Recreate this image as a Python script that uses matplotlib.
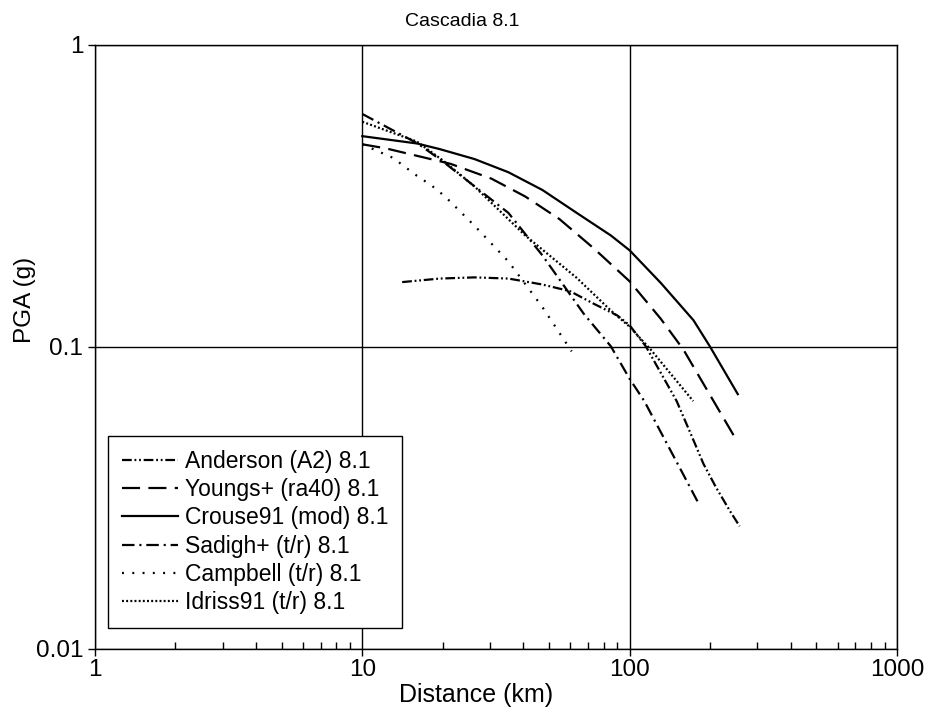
import matplotlib
matplotlib.use("Agg")
import matplotlib.pyplot as plt

plt.rcParams['font.family'] = ['Liberation Sans', 'DejaVu Sans']
plt.rcParams['lines.scale_dashes'] = False

title = "Cascadia 8.1"
xlabel = "Distance (km)"
ylabel = "PGA (g)"

anderson_x = [14.1, 19.5, 26.3, 35.2, 47.2, 59.9, 73.5, 90.2, 100, 115, 134.5, 150, 169, 189, 210.5, 237, 258]
anderson_y = [0.164, 0.1685, 0.170, 0.1685, 0.161, 0.153, 0.139, 0.127, 0.118, 0.1005, 0.0786, 0.0662, 0.0518, 0.041, 0.0343, 0.0287, 0.0255]

youngs_x = [10, 12.2, 21.4, 30.4, 40.7, 54.7, 73.5, 100, 130.8, 159, 245]
youngs_y = [0.469, 0.455, 0.404, 0.361, 0.315, 0.265, 0.212, 0.165, 0.124, 0.098, 0.051]

crouse_x = [10, 16, 19.5, 26.3, 35.2, 47.2, 63.4, 85.1, 100, 130.8, 173.4, 199.6, 254]
crouse_y = [0.499, 0.472, 0.452, 0.419, 0.379, 0.331, 0.278, 0.234, 0.209, 0.163, 0.1226, 0.1005, 0.0698]

sadigh_x = [10, 16.1, 19.9, 35.2, 47.2, 67.3, 85.1, 100, 113.5, 155, 182]
sadigh_y = [0.591, 0.472, 0.413, 0.278, 0.201, 0.129, 0.1005, 0.0785, 0.0662, 0.0394, 0.0301]

campbell_x = [10, 13.1, 14.1, 16.0, 18.2, 20.4, 26.3, 35.2, 47.2, 60.7]
campbell_y = [0.469, 0.422, 0.401, 0.369, 0.342, 0.315, 0.252, 0.192, 0.1355, 0.0967]

idriss_x = [10, 16, 20, 26.3, 40.7, 63.4, 85.1, 100, 120, 173]
idriss_y = [0.557, 0.479, 0.415, 0.34, 0.234, 0.1694, 0.132, 0.1167, 0.098, 0.0662]

labels = ["Anderson (A2) 8.1", "Youngs+ (ra40) 8.1", "Crouse91 (mod) 8.1",
          "Sadigh+ (t/r) 8.1", "Campbell (t/r) 8.1", "Idriss91 (t/r) 8.1"]

xticks = [1, 10, 100, 1000]
xticklabels = ["1", "10", "100", "1000"]
yticks = [0.01, 0.1, 1]
yticklabels = ["0.01", "0.1", "1"]

fig = plt.figure(figsize=(9.27, 7.13), dpi=100)
ax = fig.add_axes([0.1025, 0.0898, 0.865, 0.8471])

lw = 1.6
series = [
    (anderson_x, anderson_y, (0, (7, 2, 1.3, 2, 1.3, 2))),
    (youngs_x, youngs_y, (0, (13, 6))),
    (crouse_x, crouse_y, '-'),
    (sadigh_x, sadigh_y, (0, (9, 3.5, 1.5, 3.5))),
    (campbell_x, campbell_y, (0, (1.4, 6))),
    (idriss_x, idriss_y, (0, (1.4, 1.6))),
]
for (xs, ys, ls), lab in zip(series, labels):
    ax.plot(xs, ys, color='black', lw=lw, linestyle=ls, label=lab)

ax.set_xscale('log')
ax.set_yscale('log')
ax.set_xlim(1, 1000)
ax.set_ylim(0.01, 1)
ax.set_xticks(xticks)
ax.set_xticklabels(xticklabels)
ax.set_yticks(yticks)
ax.set_yticklabels(yticklabels)
ax.yaxis.set_minor_locator(matplotlib.ticker.NullLocator())
ax.tick_params(axis='both', which='major', direction='out', length=5, width=1, labelsize=17.5, colors='black')
ax.tick_params(axis='x', which='major', pad=2)
ax.tick_params(axis='x', which='minor', direction='in', length=5, width=1)
ax.xaxis.set_minor_formatter(matplotlib.ticker.NullFormatter())
ax.grid(True, which='major', color='black', lw=1)
for s in ax.spines.values():
    s.set_linewidth(1)

t = ax.set_title(title, fontsize=14, pad=14)
t.set_x(0.458)
ax.set_xlabel(xlabel, fontsize=18)
ax.xaxis.set_label_coords(0.475, -0.056)
ax.set_ylabel(ylabel, fontsize=17.5)
ax.yaxis.set_label_coords(-0.074, 0.578)

leg = ax.legend(loc='lower left', bbox_to_anchor=(0.016, 0.035), borderaxespad=0,
                fontsize=16.5, handlelength=2.45, handletextpad=0.3, labelspacing=0.23,
                fancybox=False, framealpha=1, edgecolor='black', borderpad=0.6)
leg.get_frame().set_linewidth(1)

fig.savefig('out.png', dpi=100)
